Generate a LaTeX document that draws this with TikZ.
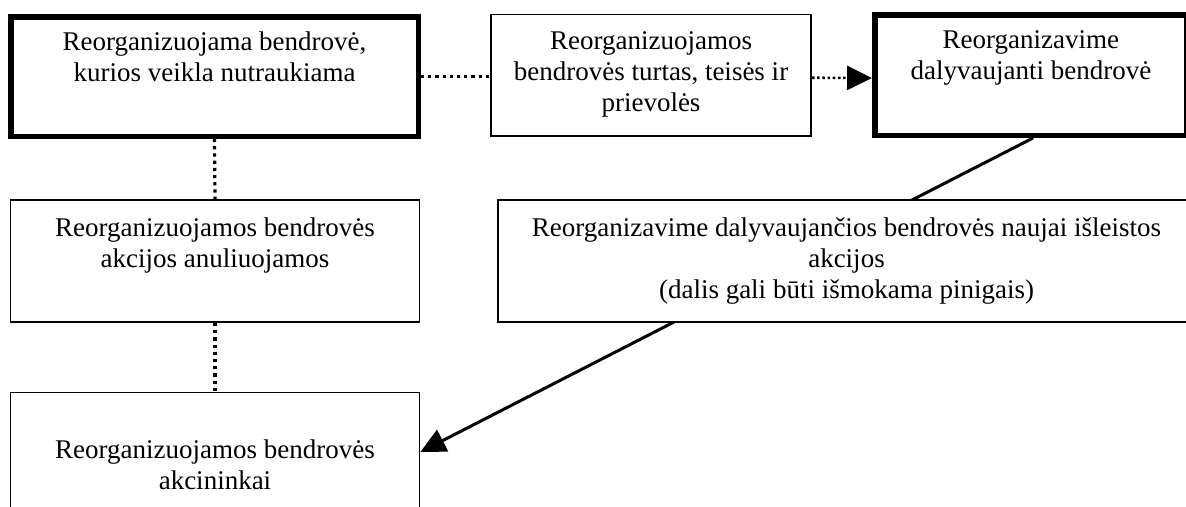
\documentclass[tikz,border=0pt]{standalone}
\usepackage{fontspec}
\setmainfont{Liberation Serif}
\usetikzlibrary{arrows.meta}
\newcommand{\boxtext}[4]{\parbox[c][#2pt][t]{#1pt}{\centering\rule{0pt}{#3pt}#4}}
\begin{document}
\begin{tikzpicture}[x=1pt,y=-1pt,
  base/.style={draw=black, rectangle, inner sep=0pt, fill=white,
    font=\fontsize{27pt}{31pt}\selectfont},
  thickbox/.style={base, line width=5.5pt},
  thinbox/.style={base, line width=1.8pt},
  dotline/.style={line width=3.2pt, dash pattern=on 3.2pt off 4pt},
  finedotline/.style={line width=2.6pt, dash pattern=on 2.6pt off 2.6pt},
  solidline/.style={line width=3pt},
  tip/.style={-{Triangle[length=25pt,width=24pt]}}
]
\useasboundingbox (0,0) rectangle (1186,506);
\clip (0,0) rectangle (1186,506);

\node[thickbox] (b1) at (214.5,76.5)
  {\boxtext{407.5}{119.5}{33.5}{Reorganizuojama bendrovė,\\kurios veikla nutraukiama}};
\node[thinbox] (b2) at (651,75.25)
  {\boxtext{320}{121.5}{34.5}{Reorganizuojamos\\bendrovės turtas, teisės ir\\prievolės}};
\node[thickbox] (b3) at (1030.9,75)
  {\boxtext{312.25}{120.5}{33.5}{Reorganizavime\\dalyvaujanti bendrovė}};
\node[thinbox] (b4) at (215,261)
  {\boxtext{409}{122}{36}{Reorganizuojamos bendrovės\\akcijos anuliuojamos}};
\node[thinbox] (b6) at (215,466.25)
  {\boxtext{409}{147.5}{66}{Reorganizuojamos bendrovės\\akcininkai}};

\draw[dotline] (b1.east) -- (b1.east -| b2.west);
\draw[finedotline, tip] ([yshift=-2.5pt]b2.east) -- ([yshift=-3pt]b3.west);
\draw[dotline] (b1.south) -- (b4.north);
\draw[dotline] (b4.south) -- (b6.north);
\draw[solidline, tip] ([xshift=161pt]b3.south west) -- ([yshift=-60.4pt]b6.north east);

\node[thinbox] (b5) at (846.5,261)
  {\boxtext{697}{122}{36}{Reorganizavime dalyvaujančios bendrovės naujai išleistos\\akcijos\\(dalis gali būti išmokama pinigais)}};
\end{tikzpicture}
\end{document}
